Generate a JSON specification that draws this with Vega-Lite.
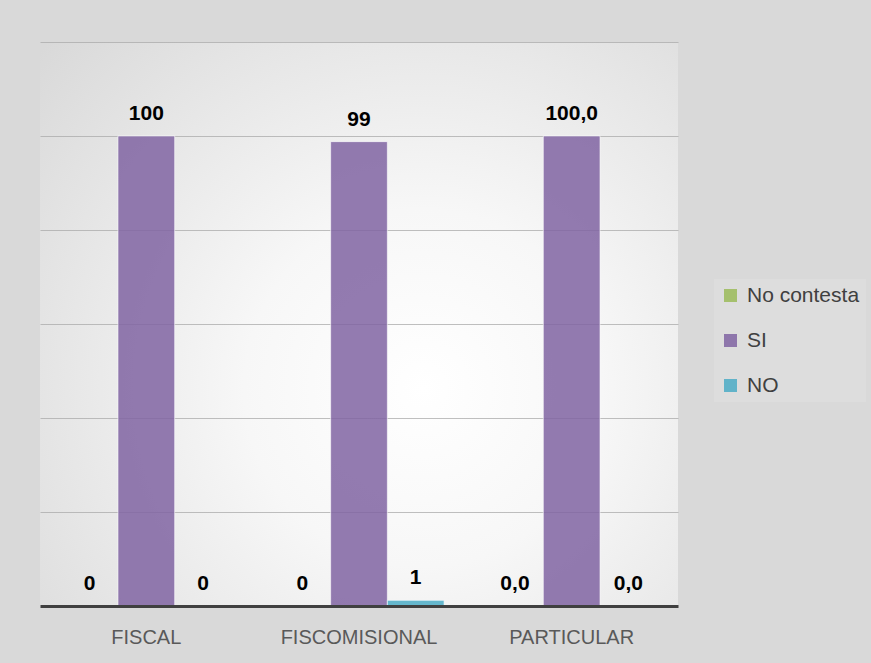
{
  "$schema": "https://vega.github.io/schema/vega-lite/v6.json",
  "width": 638,
  "height": 564,
  "autosize": {"type": "none"},
  "padding": {"left": 40, "top": 42, "right": 193, "bottom": 57},
  "background": "#d9d9d9",
  "config": {
    "font": "Liberation Sans",
    "view": {
      "stroke": null,
      "fill": {
        "gradient": "radial",
        "x1": 0.6, "y1": 0.6, "r1": 0,
        "x2": 0.6, "y2": 0.6, "r2": 0.8,
        "stops": [
          {"offset": 0, "color": "#ffffff"},
          {"offset": 0.35, "color": "#f7f7f7"},
          {"offset": 1, "color": "#d9d9d9"}
        ]
      }
    }
  },
  "data": {
    "values": [
      {"tipo": "FISCAL", "serie": "No contesta", "valor": 0, "label": "0"},
      {"tipo": "FISCAL", "serie": "SI", "valor": 100, "label": "100"},
      {"tipo": "FISCAL", "serie": "NO", "valor": 0, "label": "0"},
      {"tipo": "FISCOMISIONAL", "serie": "No contesta", "valor": 0, "label": "0"},
      {"tipo": "FISCOMISIONAL", "serie": "SI", "valor": 98.8, "label": "99"},
      {"tipo": "FISCOMISIONAL", "serie": "NO", "valor": 1.2, "label": "1"},
      {"tipo": "PARTICULAR", "serie": "No contesta", "valor": 0, "label": "0,0"},
      {"tipo": "PARTICULAR", "serie": "SI", "valor": 100, "label": "100,0"},
      {"tipo": "PARTICULAR", "serie": "NO", "valor": 0, "label": "0,0"}
    ]
  },
  "encoding": {
    "x": {
      "field": "tipo", "type": "nominal",
      "sort": ["FISCAL", "FISCOMISIONAL", "PARTICULAR"],
      "scale": {"paddingInner": 0.2, "paddingOuter": 0.1},
      "axis": {
        "title": null, "labelAngle": 0, "labelFontSize": 20, "labelColor": "#595959",
        "ticks": false, "domainColor": "#404040", "domainWidth": 3, "labelPadding": 21, "zindex": 1
      }
    },
    "xOffset": {
      "field": "serie", "type": "nominal",
      "sort": ["No contesta", "SI", "NO"],
      "scale": {"paddingInner": 0, "paddingOuter": 0}
    },
    "y": {
      "field": "valor", "type": "quantitative",
      "scale": {"domain": [0, 120], "nice": false},
      "axis": {
        "title": null, "labels": false, "ticks": false, "domain": false,
        "values": [20, 40, 60, 80, 100, 120], "gridColor": "#aaaaaa", "gridOpacity": 0.75
      }
    }
  },
  "layer": [
    {
      "mark": {"type": "bar", "fillOpacity": 0.85, "stroke": "#ffffff", "strokeWidth": 1, "strokeOpacity": 0.6},
      "encoding": {
        "color": {
          "field": "serie", "type": "nominal",
          "scale": {"domain": ["No contesta", "SI", "NO"], "range": ["#9BBB59", "#8064A2", "#4BACC6"]},
          "legend": {
            "title": null, "orient": "none", "legendX": 674, "legendY": 237,
            "symbolType": "square", "symbolSize": 169, "symbolStrokeWidth": 0, "symbolOpacity": 0.85,
            "labelFontSize": 21, "labelColor": "#404040", "labelOffset": 6, "rowPadding": 23,
            "padding": 6, "fillColor": "rgba(255,255,255,0.12)"
          }
        }
      }
    },
    {
      "mark": {"type": "text", "baseline": "alphabetic", "dy": -16, "fontSize": 21, "fontWeight": "bold", "color": "#000000"},
      "encoding": {"text": {"field": "label"}}
    }
  ]
}
